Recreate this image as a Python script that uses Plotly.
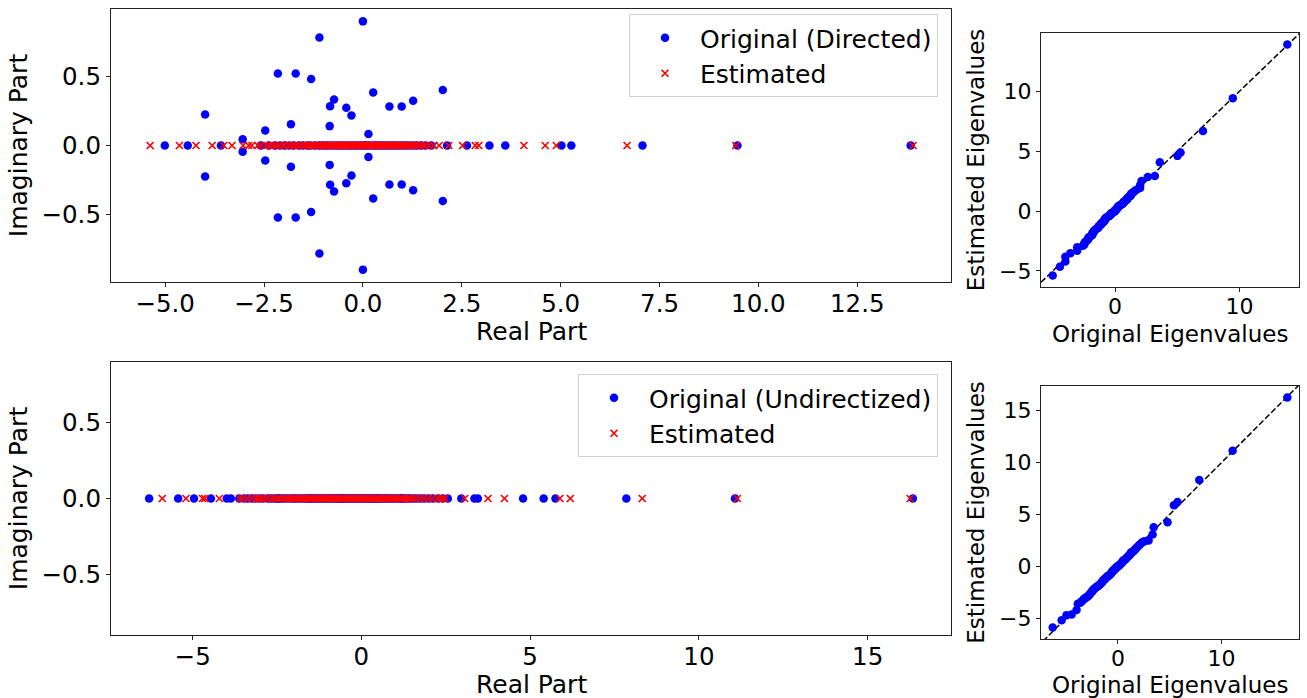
import plotly.graph_objects as go

# ---------------- data ----------------
# Directed graph: complex-conjugate pairs of original eigenvalues (real part, +imag part)
top_complex_re = [-3.99, -3.04, -2.47, -2.15, -1.70, -1.82, -1.31, -1.10, -0.84, -0.83,
                  -0.73, -0.42, -0.29, 0.00, 0.14, 0.26, 0.67, 0.98, 1.27, 2.02]
top_complex_im = [0.226, 0.046, 0.109, 0.524, 0.524, 0.155, 0.483, 0.786, 0.141, 0.286,
                  0.335, 0.274, 0.218, 0.903, 0.083, 0.386, 0.284, 0.284, 0.325, 0.403]
# Directed graph: real original eigenvalues
top_real = [-5.01, -4.43, -3.59, -2.58, -2.38, -2.22, -2.10, -1.98, -1.86, -1.75,
            -1.62, -1.52, -1.41, -1.33, -1.22, -1.12, -1.03, -0.95, -0.88, -0.79,
            -0.70, -0.62, -0.55, -0.47, -0.38, -0.31, -0.22, -0.15, -0.07, 0.00,
            0.06, 0.12, 0.19, 0.27, 0.33, 0.41, 0.48, 0.55, 0.63, 0.71,
            0.78, 0.86, 0.94, 1.02, 1.10, 1.19, 1.28, 1.37, 1.47, 1.58,
            1.73, 2.13, 2.63, 3.20, 3.60, 5.02, 5.27, 7.07, 9.47, 13.85]
# Directed graph: estimated eigenvalues (real)
top_est = [-5.38, -4.64, -4.22, -3.81, -3.52, -3.31, -3.03, -2.89, -2.81, -2.66,
           -2.57, -2.44, -2.36, -2.27, -2.19, -2.11, -2.02, -1.97, -1.86, -1.79,
           -1.71, -1.66, -1.58, -1.49, -1.43, -1.37, -1.30, -1.26, -1.18, -1.13,
           -1.06, -1.01, -0.97, -0.90, -0.86, -0.81, -0.78, -0.74, -0.69, -0.66,
           -0.61, -0.57, -0.54, -0.49, -0.45, -0.41, -0.38, -0.33, -0.29, -0.26,
           -0.21, -0.18, -0.13, -0.09, -0.05, -0.02, 0.03, 0.07, 0.10, 0.15,
           0.18, 0.22, 0.27, 0.31, 0.36, 0.39, 0.44, 0.49, 0.53, 0.58,
           0.63, 0.68, 0.72, 0.77, 0.83, 0.88, 0.94, 0.99, 1.04, 1.11,
           1.17, 1.23, 1.30, 1.36, 1.43, 1.51, 1.58, 1.67, 1.79, 1.93,
           2.17, 2.52, 2.84, 2.93, 4.07, 4.61, 4.89, 6.68, 9.43, 13.91]

# Undirectized graph: original and estimated eigenvalues (all real)
bot_orig = [-6.29, -5.43, -4.96, -4.46, -3.99, -3.87, -3.62, -3.48, -3.37, -3.25,
            -3.14, -3.02, -2.91, -2.78, -2.70, -2.61, -2.52, -2.48, -2.43, -2.36,
            -2.27, -2.18, -2.09, -2.01, -1.94, -1.86, -1.77, -1.69, -1.62, -1.55,
            -1.52, -1.47, -1.41, -1.34, -1.27, -1.21, -1.14, -1.08, -1.01, -0.95,
            -0.89, -0.84, -0.77, -0.71, -0.66, -0.60, -0.58, -0.54, -0.49, -0.43,
            -0.38, -0.32, -0.27, -0.21, -0.16, -0.10, -0.05, 0.01, 0.06, 0.12,
            0.17, 0.23, 0.29, 0.34, 0.40, 0.44, 0.47, 0.53, 0.59, 0.66,
            0.72, 0.79, 0.86, 0.93, 1.00, 1.08, 1.15, 1.19, 1.23, 1.31,
            1.39, 1.47, 1.56, 1.66, 1.76, 1.87, 1.99, 2.12, 2.27, 2.41,
            2.56, 2.96, 3.35, 3.45, 4.79, 5.40, 5.75, 7.85, 11.07, 16.34]
bot_est = [-5.90, -5.20, -4.71, -4.64, -4.21, -3.61, -3.52, -3.38, -3.26, -3.12,
           -3.05, -2.99, -2.88, -2.79, -2.66, -2.57, -2.49, -2.41, -2.33, -2.24,
           -2.16, -2.09, -2.00, -1.97, -1.93, -1.85, -1.79, -1.70, -1.63, -1.57,
           -1.49, -1.43, -1.36, -1.29, -1.24, -1.17, -1.10, -1.04, -0.98, -0.95,
           -0.92, -0.86, -0.81, -0.74, -0.69, -0.63, -0.57, -0.51, -0.46, -0.41,
           -0.35, -0.30, -0.25, -0.19, -0.14, -0.08, -0.03, 0.00, 0.03, 0.08,
           0.14, 0.19, 0.25, 0.31, 0.37, 0.42, 0.49, 0.55, 0.58, 0.61,
           0.68, 0.75, 0.81, 0.89, 0.96, 1.03, 1.11, 1.18, 1.26, 1.34,
           1.40, 1.43, 1.52, 1.62, 1.73, 1.85, 1.97, 2.10, 2.24, 2.33,
           2.41, 2.48, 3.06, 3.75, 4.24, 5.88, 6.19, 8.32, 11.14, 16.26]

# ---------------- derived ----------------
top_orig_re = top_real + top_complex_re + top_complex_re
top_orig_im = [0.0] * len(top_real) + top_complex_im + [-v for v in top_complex_im]

FONT = "DejaVu Sans"
FS_LT = 24.5  # left tick labels
FS_L = 25     # left axis titles
FS_RT = 22    # right tick labels
FS_R = 23     # right axis titles
FS_LEG = 25
BLUE = "#0000ff"
RED = "#ff0000"

dot = dict(color=BLUE, size=8.5, line=dict(width=0))
cross = dict(color=RED, size=7, symbol="x-thin", line=dict(color=RED, width=1.7))

fig = go.Figure()

# top-left
fig.add_trace(go.Scatter(x=top_orig_re, y=top_orig_im, mode="markers", marker=dot,
                         name="Original (Directed)", legendgroup="a1",
                         xaxis="x", yaxis="y", legend="legend"))
fig.add_trace(go.Scatter(x=top_est, y=[0.0] * len(top_est), mode="markers", marker=cross,
                         name="Estimated", legendgroup="b1",
                         xaxis="x", yaxis="y", legend="legend"))
# bottom-left
fig.add_trace(go.Scatter(x=bot_orig, y=[0.0] * len(bot_orig), mode="markers", marker=dot,
                         name="Original (Undirectized)", legendgroup="a2",
                         xaxis="x2", yaxis="y2", legend="legend2"))
fig.add_trace(go.Scatter(x=bot_est, y=[0.0] * len(bot_est), mode="markers", marker=cross,
                         name="Estimated", legendgroup="b2",
                         xaxis="x2", yaxis="y2", legend="legend2"))

# right panels: identity dashed line then sorted eigenvalues
for xa, ya, o, e in (("x3", "y3", top_orig_re, top_est), ("x4", "y4", bot_orig, bot_est)):
    lo = min(min(o), min(e)) - 5
    hi = max(max(o), max(e)) + 5
    fig.add_trace(go.Scatter(x=[lo, hi], y=[lo, hi], mode="lines",
                             line=dict(color="black", width=1.5, dash="6px,2.5px"),
                             showlegend=False, xaxis=xa, yaxis=ya, hoverinfo="skip"))
    fig.add_trace(go.Scatter(x=sorted(o), y=sorted(e), mode="markers", marker=dot,
                             showlegend=False, xaxis=xa, yaxis=ya))

W, H = 1307, 698


def dx(a, b):
    return [a / W, b / W]


def dy(top, bot):
    return [1 - bot / H, 1 - top / H]


def ax(fs, **kw):
    d = dict(showgrid=False, zeroline=False, showline=True, mirror=True,
             linecolor="#222222", linewidth=1.2, ticks="outside", ticklen=4,
             tickwidth=1.2, tickcolor="#222222",
             tickfont=dict(family=FONT, size=fs, color="black"))
    d.update(kw)
    return d


def tt(text, fs, standoff):
    return dict(text=text, font=dict(family=FONT, size=fs, color="black"), standoff=standoff)


def xtitle(text, cx, cy, fs):
    return dict(text=text, x=cx / W, y=1 - cy / H, xref="paper", yref="paper",
                xanchor="center", yanchor="middle", showarrow=False,
                font=dict(family=FONT, size=fs, color="black"))


leg_common = dict(xanchor="right", yanchor="top",
                  font=dict(family=FONT, size=FS_LEG, color="black"),
                  bgcolor="rgba(255,255,255,0.8)", bordercolor="#d0d0d0", borderwidth=1,
                  itemwidth=60, tracegroupgap=0)

XSO = -5  # pull x tick labels towards the axis

fig.update_layout(
    width=W, height=H,
    margin=dict(l=0, r=0, t=0, b=0),
    paper_bgcolor="white", plot_bgcolor="white",
    font=dict(family=FONT, size=FS_L, color="black"),
    xaxis=ax(FS_LT, domain=dx(111, 951), range=[-6.37, 14.87], dtick=2.5, tick0=0,
             tickformat=".1f", anchor="y", ticklabelstandoff=XSO),
    yaxis=ax(FS_LT, domain=dy(9, 282), range=[-0.993, 0.993], dtick=0.5, tick0=0,
             tickformat=".1f", anchor="x", title=tt("Imaginary Part", FS_L, 6)),
    xaxis2=ax(FS_LT, domain=dx(111, 951), range=[-7.42, 17.47], dtick=5, tick0=0,
              anchor="y2", ticklabelstandoff=XSO),
    yaxis2=ax(FS_LT, domain=dy(362, 635), range=[-0.9, 0.9], dtick=0.5, tick0=0,
              tickformat=".1f", anchor="x2", title=tt("Imaginary Part", FS_L, 6)),
    xaxis3=ax(FS_RT, domain=dx(1041, 1299), range=[-5.95, 14.79], dtick=10, tick0=0,
              anchor="y3", ticklabelstandoff=XSO),
    yaxis3=ax(FS_RT, domain=dy(33, 287), range=[-6.34, 14.87], dtick=5, tick0=0,
              anchor="x3", title=tt("Estimated Eigenvalues", FS_R, 8)),
    xaxis4=ax(FS_RT, domain=dx(1041, 1299), range=[-7.42, 17.47], dtick=10, tick0=0,
              anchor="y4", ticklabelstandoff=XSO),
    yaxis4=ax(FS_RT, domain=dy(386, 639), range=[-7.01, 17.37], dtick=5, tick0=0,
              anchor="x4", title=tt("Estimated Eigenvalues", FS_R, 8)),
    legend=dict(x=938 / W, y=1 - 14 / H, **leg_common),
    legend2=dict(x=938 / W, y=1 - 374 / H, **leg_common),
    showlegend=True,
    annotations=[
        xtitle("Real Part", 531, 331, FS_L),
        xtitle("Real Part", 531, 684, FS_L),
        xtitle("Original Eigenvalues", 1170, 334, FS_R),
        xtitle("Original Eigenvalues", 1170, 685, FS_R),
    ],
)

fig.write_html("out.html")
